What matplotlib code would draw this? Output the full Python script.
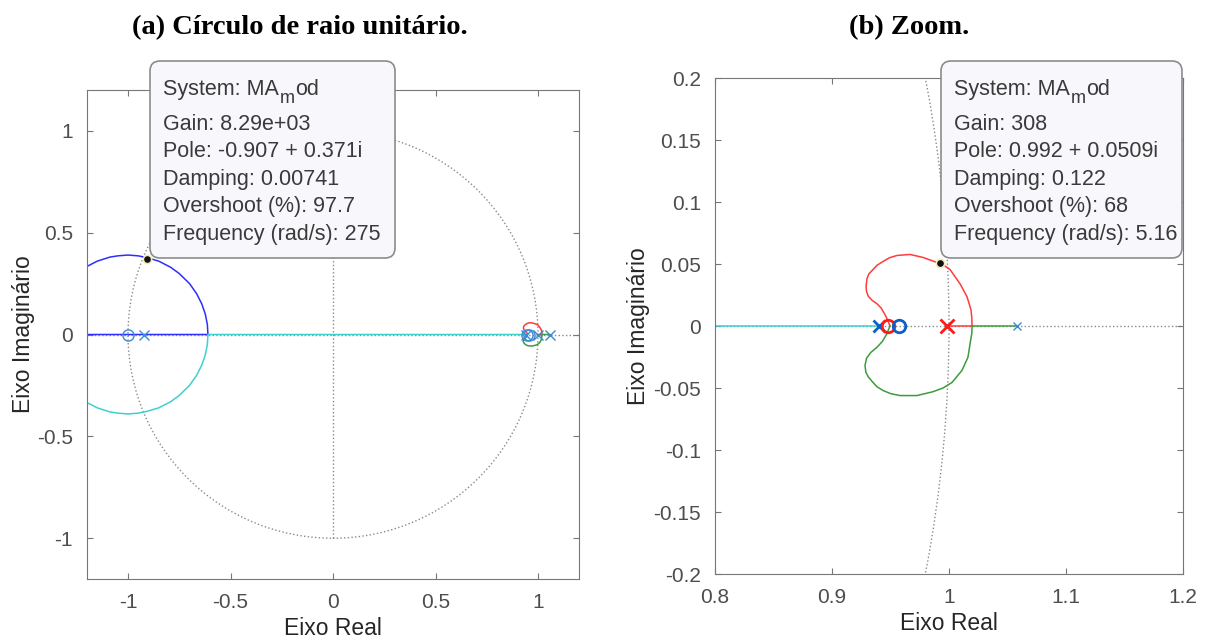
import matplotlib.pyplot as plt
from matplotlib.patches import Circle, FancyBboxPatch

plt.rcParams['font.family'] = ['Liberation Sans', 'DejaVu Sans']
plt.rcParams['axes.unicode_minus'] = False

# root locus branches (real, imag)
blue_re = [-1.25, -0.61, -0.61, -0.613, -0.623, -0.640, -0.665, -0.700, -0.751, -0.792,
           -0.850, -0.907, -0.950, -1.000, -1.050, -1.088, -1.150, -1.208, -1.25]
blue_im = [0.0, 0.0, 0.0, 0.050, 0.100, 0.150, 0.200, 0.250, 0.300, 0.330,
           0.360, 0.377, 0.386, 0.390, 0.386, 0.380, 0.360, 0.330, 0.30]
cyan_re = [0.940, -0.61, -0.613, -0.623, -0.640, -0.665, -0.700, -0.751, -0.792,
           -0.850, -0.907, -0.950, -1.000, -1.050, -1.088, -1.150, -1.208, -1.25]
cyan_im = [0.0, 0.0, -0.050, -0.100, -0.150, -0.200, -0.250, -0.300, -0.330,
           -0.360, -0.377, -0.386, -0.390, -0.386, -0.380, -0.360, -0.330, -0.30]
red_re = [0.997, 1.0197, 1.0195, 1.0188, 1.0154, 1.0094, 1.0009, 0.9955, 0.9897, 0.9778, 0.9667,
          0.9556, 0.9490, 0.9436, 0.9385, 0.9350, 0.9315, 0.9299, 0.9291, 0.9295, 0.9310,
          0.9345, 0.9385, 0.9420, 0.9460, 0.9496]
red_im = [0.0, 0.0, 0.0065, 0.0130, 0.0236, 0.0341, 0.0455, 0.0490, 0.0512, 0.0553, 0.0577,
          0.0569, 0.0550, 0.0520, 0.0490, 0.0455, 0.0420, 0.0382, 0.0317, 0.0280, 0.0240,
          0.0205, 0.0179, 0.0145, 0.0080, 0.0]
green_re = [1.058, 1.0197, 1.0195, 1.0185, 1.0162, 1.0111, 1.0026, 0.9949, 0.9863, 0.9726,
            0.9581, 0.9500, 0.9436, 0.9385, 0.9350, 0.9310, 0.9290, 0.9282, 0.9295, 0.9330,
            0.9385, 0.9430, 0.9465, 0.9496]
green_im = [0.0, 0.0, -0.0060, -0.0114, -0.0252, -0.0358, -0.0455, -0.0500, -0.0530, -0.0561,
            -0.0561, -0.0545, -0.0520, -0.0490, -0.0455, -0.0410, -0.0374, -0.0320, -0.0260,
            -0.0215, -0.0171, -0.0125, -0.0070, 0.0]

# poles (x) and zeros (o)
poles = [-0.92, 0.940, 0.998, 1.058]
pole_colors = ['#3a8ad6', '#0b5fc6', '#ff1a1a', '#3a8ad6']
pole_thick = [False, True, True, False]
zeros = [-1.0, 0.948, 0.957]
zero_colors = ['#3a8ad6', '#ff1a1a', '#0b5fc6']
zero_thick = [False, True, True]

# data tips
tip_pts = [(-0.907, 0.371), (0.992, 0.0509)]
tip_lines = [
    ['Gain: 8.29e+03', 'Pole: -0.907 + 0.371i',
     'Damping: 0.00741', 'Overshoot (%): 97.7', 'Frequency (rad/s): 275'],
    ['Gain: 308', 'Pole: 0.992 + 0.0509i',
     'Damping: 0.122', 'Overshoot (%): 68', 'Frequency (rad/s): 5.16'],
]

W, H = 1207, 640
fig = plt.figure(figsize=(W / 100, H / 100), dpi=100)
ax1 = fig.add_axes([87 / W, 1 - 579 / H, 492 / W, 489 / H])
ax2 = fig.add_axes([715 / W, 1 - 574 / H, 468 / W, 496 / H])

gridc = '#8a8a8a'
for i, ax in enumerate([ax1, ax2]):
    ax.add_patch(Circle((0, 0), 1, fill=False, ls=':', lw=1, color=gridc, zorder=1))
    ax.plot([0, 0], [-1, 1], ls=':', lw=1, color=gridc, zorder=1)
    ax.axhline(0, ls=':', lw=1, color=gridc, zorder=1)

    ax.plot(blue_re, blue_im, color='#2e2eff', lw=1.1, zorder=2)
    ax.plot(cyan_re, cyan_im, color='#3fd0d0', lw=1.1, zorder=2)
    ax.plot(red_re, red_im, color='#ff3b3b', lw=1.1, zorder=2)
    ax.plot(green_re, green_im, color='#3c9c3c', lw=1.1, zorder=2)

    for p, c, t in zip(poles, pole_colors, pole_thick):
        if i == 1 and t:
            ax.plot(p, 0, marker='x', ms=9.5 if c == '#ff1a1a' else 8, mew=2.0, color=c, zorder=4)
        else:
            ax.plot(p, 0, marker='x', ms=6 if i == 1 else 6.5, mew=1.0, color=c if i == 1 else '#3a8ad6', zorder=4)
    for z, c, t in zip(zeros, zero_colors, zero_thick):
        if i == 1 and t:
            ax.plot(z, 0, marker='o', ms=9, mew=2.0, mfc='none', color=c, zorder=4)
        else:
            ax.plot(z, 0, marker='o', ms=8, mew=1.0, mfc='none', color='#3a8ad6', zorder=4)

    ax.plot(*tip_pts[i], marker='o', ms=6, mfc='#111111', mec='#f3eeb5', mew=1.2, zorder=5)

    for s in ax.spines.values():
        s.set_color('#777777')
        s.set_linewidth(0.8)
    ax.tick_params(direction='in', top=True, right=True, length=4, width=0.8,
                   colors='#777777', labelcolor='#4d4d4d', labelsize=15, pad=10)
    ax.set_xlabel('Eixo Real', fontsize=16.5, color='#262626', labelpad=4)
    ax.set_ylabel('Eixo Imaginário', fontsize=16.5, color='#262626')

ax1.yaxis.set_label_coords(-0.106, 0.5)
ax2.yaxis.set_label_coords(-0.139, 0.5)

ax1.set_xlim(-1.2, 1.2)
ax1.set_ylim(-1.2, 1.2)
ax1.set_xticks([-1, -0.5, 0, 0.5, 1])
ax1.set_xticklabels(['-1', '-0.5', '0', '0.5', '1'])
ax1.set_yticks([-1, -0.5, 0, 0.5, 1])
ax1.set_yticklabels(['-1', '-0.5', '0', '0.5', '1'])

ax2.set_xlim(0.8, 1.2)
ax2.set_ylim(-0.2, 0.2)
ax2.set_xticks([0.8, 0.9, 1.0, 1.1, 1.2])
ax2.set_xticklabels(['0.8', '0.9', '1', '1.1', '1.2'])
yt = [-0.2, -0.15, -0.1, -0.05, 0, 0.05, 0.1, 0.15, 0.2]
ax2.set_yticks(yt)
ax2.set_yticklabels(['-0.2', '-0.15', '-0.1', '-0.05', '0', '0.05', '0.1', '0.15', '0.2'])

# data tip boxes, in pixel units (y from top)
renderer = fig.canvas.get_renderer()
tipc = '#3a3a3a'
boxes = [(150, 61, 395, 258), (941, 61, 1182, 258)]
for (x0, y0, x1, y1), lines in zip(boxes, tip_lines):
    box = FancyBboxPatch((x0 / 100, (H - y1) / 100), (x1 - x0) / 100, (y1 - y0) / 100,
                         boxstyle='round,pad=0,rounding_size=0.1',
                         transform=fig.dpi_scale_trans, facecolor='#f8f8fc',
                         edgecolor='#8c8c8c', lw=1.2, zorder=10)
    fig.add_artist(box)
    # first line with the lowered "m" as MATLAB draws it
    t1 = fig.text((x0 + 13) / W, 1 - 95 / H, 'System: MA', fontsize=15.5, color=tipc,
                  va='baseline', ha='left', zorder=11)
    e1 = t1.get_window_extent(renderer)
    t2 = fig.text(e1.x1 / W + 0.0005, 1 - 103 / H, 'm', fontsize=13, color=tipc,
                  va='baseline', ha='left', zorder=11)
    e2 = t2.get_window_extent(renderer)
    fig.text(e2.x1 / W + 0.0005, 1 - 95 / H, 'od', fontsize=15.5, color=tipc,
             va='baseline', ha='left', zorder=11)
    for ln, yb in zip(lines, [130, 157, 185, 212, 240]):
        fig.text((x0 + 13) / W, 1 - yb / H, ln, fontsize=15.5, color=tipc,
                 va='baseline', ha='left', zorder=11)

fig.text(300 / W, 1 - 28 / H, '(a) Círculo de raio unitário.', fontsize=20.5,
         family='Liberation Serif', weight='bold', ha='center', va='center')
fig.text(909 / W, 1 - 28 / H, '(b) Zoom.', fontsize=20.5,
         family='Liberation Serif', weight='bold', ha='center', va='center')

fig.savefig('out.png', dpi=100)
